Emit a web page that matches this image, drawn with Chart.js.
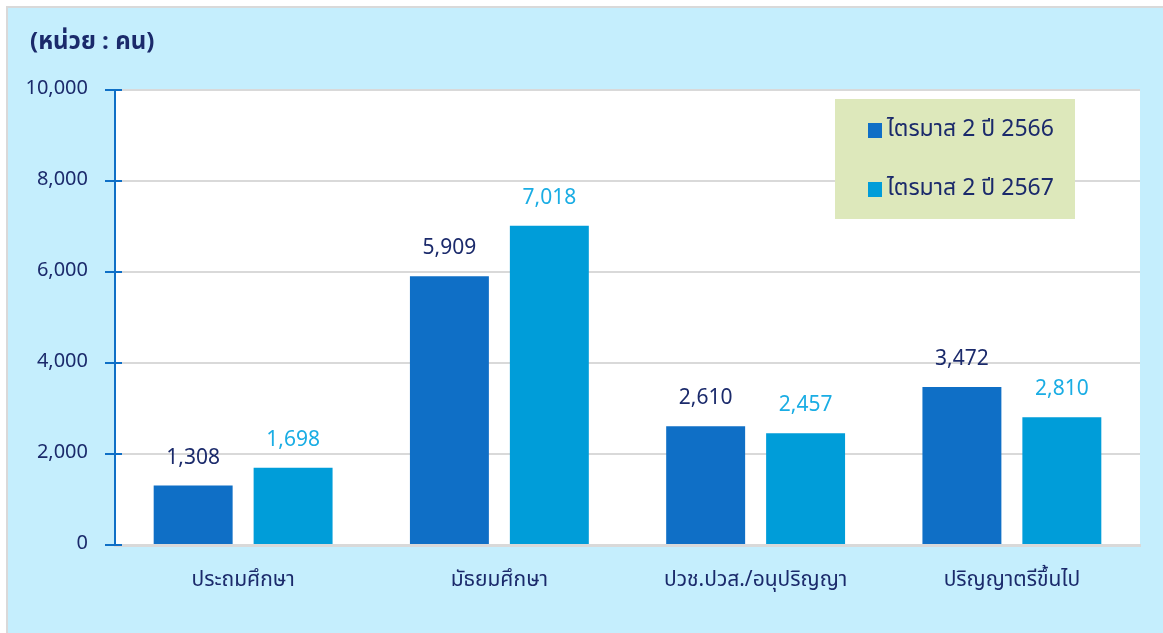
<!DOCTYPE html>
<html>
<head>
<meta charset="utf-8">
<script src="https://cdn.jsdelivr.net/npm/chart.js@4"></script>
<style>
    body { margin: 0; background: #ffffff; }
    #frame {
        position: absolute; left: 6px; top: 6px;
        width: 1155px; height: 627px;
        border: 2px solid #d9d9d9; border-bottom: none;
        background: #c5eefd;
    }
</style>
</head>
<body>
<div id="frame"><canvas id="eduChart" width="1155" height="627"></canvas></div>
<script>
//chart data
var categories = ['ประถมศึกษา', 'มัธยมศึกษา', 'ปวช.ปวส./อนุปริญญา', 'ปริญญาตรีขึ้นไป'];
var seriesNames = ['ไตรมาส 2 ปี 2566', 'ไตรมาส 2 ปี 2567'];
var values2566 = [1308, 5909, 2610, 3472];
var values2567 = [1698, 7018, 2457, 2810];
var yTicks = [0, 2000, 4000, 6000, 8000, 10000];
var unitLabel = '(หน่วย : คน)';

var fontName = "'Noto Sans Thai', 'Noto Sans', 'DejaVu Sans', sans-serif";
var navy = '#1b2a6b';

//white plot area behind the bars
var plotBackground = {
    id: 'plotBackground',
    beforeDraw: function(chart) {
        var a = chart.chartArea;
        var ctx = chart.ctx;
        ctx.save();
        ctx.fillStyle = '#ffffff';
        ctx.fillRect(a.left, a.top, a.right - a.left, a.bottom - a.top);
        ctx.restore();
    }
};

//value labels over each bar
var valueLabels = {
    id: 'valueLabels',
    afterDatasetsDraw: function(chart) {
        var ctx = chart.ctx;
        ctx.save();
        ctx.font = '21px ' + fontName;
        ctx.textAlign = 'center';
        ctx.textBaseline = 'middle';
        chart.data.datasets.forEach(function(ds, i) {
            ctx.fillStyle = ds.labelColor;
            chart.getDatasetMeta(i).data.forEach(function(bar, j) {
                ctx.fillText(ds.data[j].toLocaleString('en-US'), bar.x, bar.y - 26);
            });
        });
        ctx.restore();
    }
};

//unit title, small ticks crossing the axis, boxed legend
var extras = {
    id: 'extras',
    afterDraw: function(chart) {
        var ctx = chart.ctx;
        var a = chart.chartArea;
        var yScale = chart.scales.y;
        ctx.save();
        ctx.fillStyle = navy;
        ctx.font = 'bold 24px ' + fontName;
        ctx.textBaseline = 'middle';
        ctx.fillText(unitLabel, 22, 36);

        ctx.strokeStyle = '#0f6fc6';
        ctx.lineWidth = 2;
        yTicks.forEach(function(v) {
            var y = Math.round(yScale.getPixelForValue(v));
            ctx.beginPath();
            ctx.moveTo(a.left, y);
            ctx.lineTo(a.left + 7, y);
            ctx.stroke();
        });

        var boxX = a.right - 305, boxY = a.top + 9;
        ctx.fillStyle = '#dde8bb';
        ctx.fillRect(boxX, boxY, 240, 120);
        ctx.font = '23px ' + fontName;
        chart.data.datasets.forEach(function(ds, i) {
            var y = boxY + 32 + i * 59;
            ctx.fillStyle = ds.backgroundColor;
            ctx.fillRect(boxX + 33, y - 8, 14, 15);
            ctx.fillStyle = navy;
            ctx.fillText(ds.label, boxX + 52, y);
        });
        ctx.restore();
    }
};

var ctx = document.getElementById('eduChart').getContext('2d');
var myBarChart = new Chart(ctx, {
    type: 'bar',
    data: {
        labels: categories,
        datasets: [{
            label: seriesNames[0],
            data: values2566,
            backgroundColor: '#0f6fc6',
            labelColor: navy
        }, {
            label: seriesNames[1],
            data: values2567,
            backgroundColor: '#009dd9',
            labelColor: '#1aade4'
        }]
    },
    options: {
        responsive: false,
        animation: false,
        categoryPercentage: 0.78,
        barPercentage: 0.79,
        layout: { padding: { left: 0, right: 23, top: 82, bottom: 0 } },
        plugins: {
            legend: { display: false },
            tooltip: { enabled: false }
        },
        scales: {
            x: {
                grid: { display: false, drawTicks: false },
                border: { display: true, color: '#d9d9d9', width: 3 },
                ticks: { color: navy, padding: 24, font: { family: fontName, size: 21 } },
                afterFit: function(scale) { scale.height = 90; }
            },
            y: {
                min: 0,
                max: 10000,
                afterBuildTicks: function(scale) {
                    scale.ticks = yTicks.map(function(v) { return { value: v }; });
                },
                grid: { color: '#d9d9d9', lineWidth: 2, tickColor: '#0f6fc6', tickLength: 10, tickWidth: 2 },
                border: { display: true, color: '#0f6fc6', width: 2 },
                ticks: {
                    color: navy,
                    padding: 17,
                    font: { family: fontName, size: 20 },
                    callback: function(v) { return v.toLocaleString('en-US'); }
                },
                afterFit: function(scale) { scale.width = 107; }
            }
        }
    },
    plugins: [plotBackground, valueLabels, extras]
});
</script>
</body>
</html>
